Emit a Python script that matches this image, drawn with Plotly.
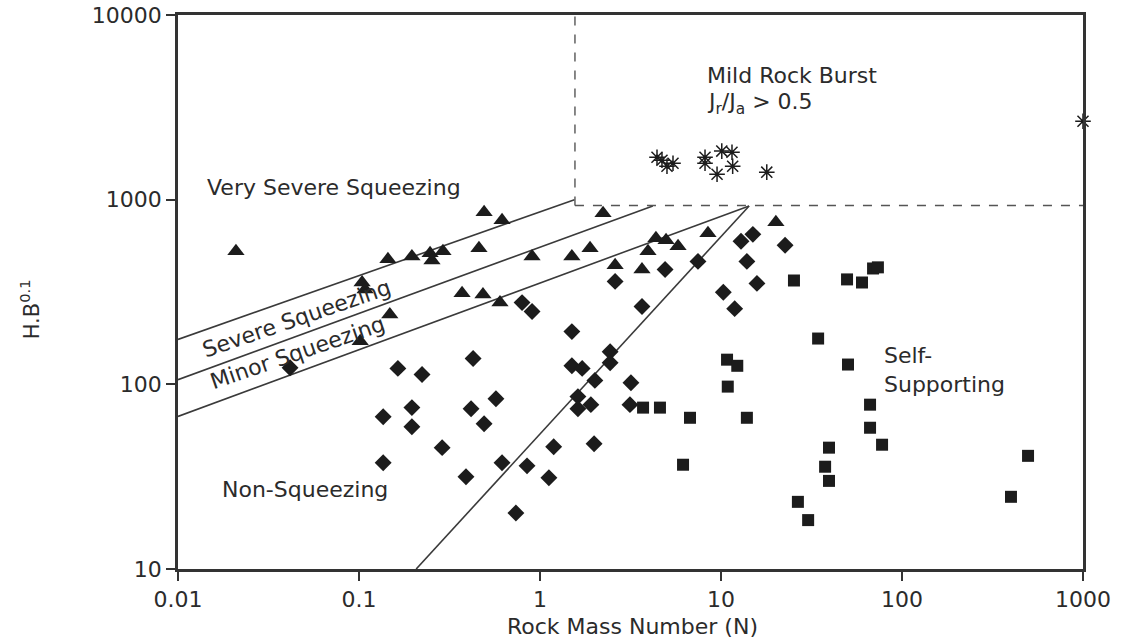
import math
import plotly.graph_objects as go

# ---------------- data ----------------
tri_x = [0.0209, 0.104, 0.108, 0.1445, 0.196, 0.247, 0.253, 0.291, 0.491, 0.617,
         0.46, 0.904, 1.50, 1.89, 2.23, 2.60, 3.66, 3.95, 4.37, 4.97, 5.79, 8.47,
         20.1, 0.371, 0.484, 0.601, 0.148, 0.1015]
tri_y = [525, 356, 326, 475, 493, 512, 469, 525, 855, 773,
         545, 493, 493, 545, 844, 441, 419, 525, 618, 602, 559, 657,
         754, 311, 307, 277, 239, 171]

dia_x = [0.0416, 0.164, 0.223, 0.196, 0.136, 0.196, 0.288, 0.136, 0.427, 0.416,
         0.491, 0.571, 0.390, 0.617, 0.736, 0.848, 1.12, 1.19, 1.99, 0.796,
         0.904, 1.50, 1.50, 1.71, 2.01, 1.62, 1.62, 1.91, 2.44, 2.44,
         3.18, 3.14, 2.60, 3.66, 4.91, 7.46, 12.9, 15.0, 22.6, 13.9,
         15.8, 10.3, 11.9]
dia_y = [123, 122, 113, 74.8, 66.8, 58.9, 45.4, 37.6, 138, 73.8,
         61.2, 83.6, 31.6, 37.6, 20.1, 36.2, 31.2, 45.9, 47.7, 277,
         248, 193, 126, 122, 105, 85.8, 73.8, 77.6, 150, 131,
         102, 77.6, 361, 264, 419, 463, 595, 649, 566, 463,
         352, 315, 257]

sq_x = [10.8, 12.3, 10.9, 3.71, 4.60, 6.74, 6.17, 13.9, 25.3, 49.7,
        60.1, 69.2, 73.6, 34.4, 50.3, 66.6, 66.6, 77.6, 39.5, 37.6,
        39.5, 26.6, 30.3, 497, 400]
sq_y = [136, 126, 97.2, 74.8, 74.8, 65.9, 36.7, 65.9, 365, 370,
        356, 424, 430, 177, 128, 77.6, 58.2, 47.1, 45.4, 35.8,
        30.0, 23.1, 18.4, 41.0, 24.6]

ast_x = [4.43, 4.72, 5.43, 5.03, 8.16, 8.16, 9.51, 10.1, 11.5, 11.6, 17.9, 1000]
ast_y = [1698, 1636, 1575, 1518, 1698, 1575, 1374, 1832, 1807, 1518, 1409, 2660]

# boundary lines (end points)
upper_x, upper_y = [0.01, 1.55], [175, 1000]
middle_x, middle_y = [0.01, 4.2], [106, 925]
lower_x, lower_y = [0.01, 14.3], [67, 925]
steep_x, steep_y = [0.207, 14.3], [10, 925]
burst_v_x, burst_v_y = [1.56, 1.56], [930, 10000]
burst_h_x, burst_h_y = [1.56, 1000], [930, 930]

x_ticks = [0.01, 0.1, 1, 10, 100, 1000]
x_ticktext = ["0.01", "0.1", "1", "10", "100", "1000"]
y_ticks = [10, 100, 1000, 10000]
y_ticktext = ["10", "100", "1000", "10000"]

FONT = "DejaVu Sans"
TXT = "#2b2b2b"
INK = "#1c1c1c"

fig = go.Figure()

for lx, ly in [(upper_x, upper_y), (middle_x, middle_y), (lower_x, lower_y), (steep_x, steep_y)]:
    fig.add_trace(go.Scatter(x=lx, y=ly, mode="lines", line=dict(color="#3a3a3a", width=1.6),
                             showlegend=False, hoverinfo="skip"))
for lx, ly in [(burst_v_x, burst_v_y), (burst_h_x, burst_h_y)]:
    fig.add_trace(go.Scatter(x=lx, y=ly, mode="lines", line=dict(color="#555555", width=1.4, dash="dash"),
                             showlegend=False, hoverinfo="skip"))

fig.add_trace(go.Scatter(x=tri_x, y=tri_y, mode="markers", showlegend=False,
                         marker=dict(symbol="triangle-up", size=15, color=INK)))
fig.add_trace(go.Scatter(x=dia_x, y=dia_y, mode="markers", showlegend=False,
                         marker=dict(symbol="diamond", size=13, color=INK)))
fig.add_trace(go.Scatter(x=sq_x, y=sq_y, mode="markers", showlegend=False,
                         marker=dict(symbol="square", size=12, color=INK)))
fig.add_trace(go.Scatter(x=ast_x, y=ast_y, mode="markers", showlegend=False, cliponaxis=False,
                         marker=dict(symbol="asterisk-open", size=13, color=INK,
                                     line=dict(color=INK, width=1.5))))

def lg(v):
    return math.log10(v)

ann = [
    dict(text="Very Severe Squeezing", x=lg(0.0141), y=lg(1170), xanchor="left", textangle=0),
    dict(text="Mild Rock Burst", x=lg(8.17), y=lg(4680), xanchor="left", textangle=0),
    dict(text="J<sub>r</sub>/J<sub>a</sub> &gt; 0.5", x=lg(8.17), y=lg(3300), xanchor="left", textangle=0),
    dict(text="Self-<br>Supporting", x=lg(77.6), y=lg(120), xanchor="left", textangle=0, align="left"),
    dict(text="Non-Squeezing", x=lg(0.017), y=lg(26.9), xanchor="left", textangle=0),
    dict(text="Severe Squeezing", x=lg(0.0454), y=lg(226), xanchor="center", textangle=-19),
    dict(text="Minor Squeezing", x=lg(0.046), y=lg(149), xanchor="center", textangle=-19),
]
for a in ann:
    fig.add_annotation(xref="x", yref="y", showarrow=False, yanchor="middle",
                       font=dict(family=FONT, size=22, color=TXT), **a)

fig.add_annotation(xref="paper", yref="paper", x=-0.164, y=0.468, text="H.B<sup>0.1</sup>",
                   textangle=-90, showarrow=False, xanchor="center", yanchor="middle",
                   font=dict(family=FONT, size=21, color=TXT))
fig.add_annotation(xref="paper", yref="paper", x=0.502, y=-0.103, text="Rock Mass Number (N)",
                   showarrow=False, xanchor="center", yanchor="middle",
                   font=dict(family=FONT, size=22, color=TXT))

axis_common = dict(type="log", showgrid=False, zeroline=False, showline=True, mirror=True,
                   linecolor="#333333", linewidth=2.5, ticks="outside", ticklen=9,
                   tickwidth=1.5, tickcolor="#333333", automargin=False,
                   tickfont=dict(family=FONT, size=22, color=TXT))

fig.update_xaxes(range=[-2, 3], tickvals=x_ticks, ticktext=x_ticktext, **axis_common)
fig.update_yaxes(range=[1, 4], tickvals=y_ticks, ticktext=y_ticktext, **axis_common)

fig.update_layout(width=1121, height=641,
                  margin=dict(l=178, r=38, t=15, b=72, autoexpand=False),
                  plot_bgcolor="white", paper_bgcolor="white")

fig.write_html("out.html", config={"displayModeBar": False},
               post_script="document.body.style.margin='0px';document.body.style.overflow='hidden';")
